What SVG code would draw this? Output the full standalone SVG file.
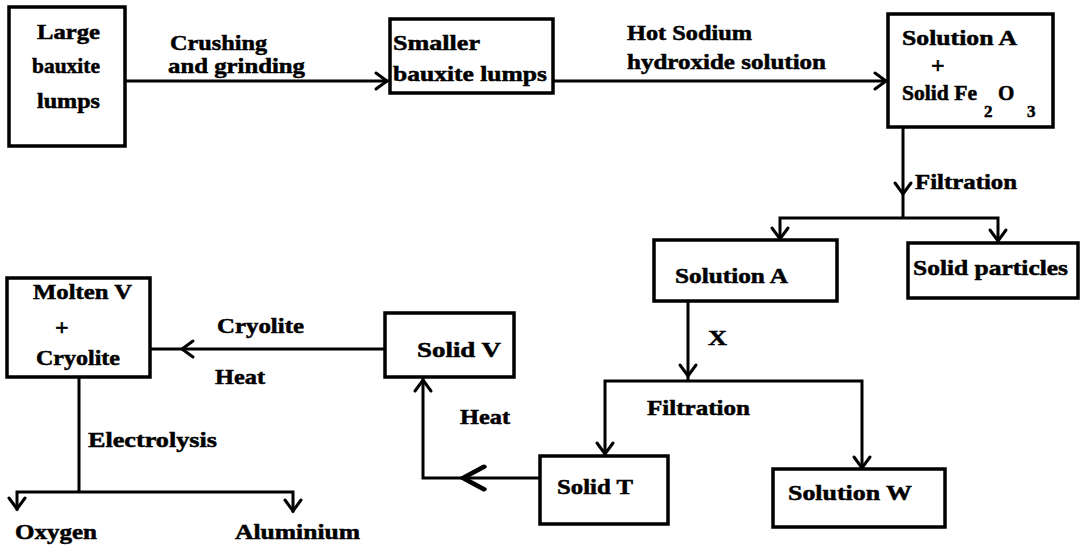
<svg xmlns="http://www.w3.org/2000/svg" xmlns:xlink="http://www.w3.org/1999/xlink" width="1084" height="546" viewBox="0 0 1084 546">
<style>
.box{fill:#fff;stroke:#000;stroke-width:3.5}
.ln{fill:none;stroke:#000;stroke-width:3;stroke-linecap:square}
.ah{fill:none;stroke:#000;stroke-width:3;stroke-linecap:round;stroke-linejoin:miter}
text{font-family:"Liberation Serif","Times New Roman",serif;font-weight:bold;font-size:21px;fill:#000;stroke:#000;stroke-width:0.5}
.sub{font-size:17px}
.plus{font-size:24px}
</style>
<defs>
<path id="ah" class="ah" d="M-11,-8 L0,0 L-11,8"/>
</defs>
<rect width="1084" height="546" fill="#fff"/>

<g id="connectors">
<path class="ln" d="M127,81 H387"/>
<use xlink:href="#ah" transform="translate(387,81)"/>
<path class="ln" d="M553,81 H886"/>
<use xlink:href="#ah" transform="translate(886,81)"/>
<path class="ln" d="M903,127 V218 M780,218 H998 M780,218 V239 M998,218 V241"/>
<use xlink:href="#ah" transform="translate(903,194) rotate(90)"/>
<use xlink:href="#ah" transform="translate(780,239) rotate(90)"/>
<use xlink:href="#ah" transform="translate(998,241) rotate(90)"/>
<path class="ln" d="M688,301 V381 M605,381 H862 M605,381 V454 M862,381 V468"/>
<use xlink:href="#ah" transform="translate(688,376) rotate(90)"/>
<use xlink:href="#ah" transform="translate(605,454) rotate(90)"/>
<use xlink:href="#ah" transform="translate(862,468) rotate(90)"/>
<path class="ln" d="M540,478 H423 V379"/>
<use xlink:href="#ah" transform="translate(463,478) rotate(180) scale(1.9,1.4)"/>
<use xlink:href="#ah" transform="translate(423,380) rotate(-90)"/>
<path class="ln" d="M385,349 H150"/>
<use xlink:href="#ah" transform="translate(182,349) rotate(180)"/>
<path class="ln" d="M79,377 V492 M17,492 H293 M17,492 V509 M293,492 V511"/>
<use xlink:href="#ah" transform="translate(17,509) rotate(90)"/>
<use xlink:href="#ah" transform="translate(293,511) rotate(90)"/>
</g>

<g id="labels">
<text x="170" y="50" textLength="97" lengthAdjust="spacingAndGlyphs">Crushing</text>
<text x="168" y="73" textLength="137" lengthAdjust="spacingAndGlyphs">and grinding</text>
<text x="627" y="40" textLength="125" lengthAdjust="spacingAndGlyphs">Hot Sodium</text>
<text x="627" y="69" textLength="199" lengthAdjust="spacingAndGlyphs">hydroxide solution</text>
<text x="915" y="189" textLength="102" lengthAdjust="spacingAndGlyphs">Filtration</text>
<text x="708" y="345" textLength="19" lengthAdjust="spacingAndGlyphs">X</text>
<text x="647" y="415" textLength="103" lengthAdjust="spacingAndGlyphs">Filtration</text>
<text x="460" y="424" textLength="50" lengthAdjust="spacingAndGlyphs">Heat</text>
<text x="217" y="333" textLength="87" lengthAdjust="spacingAndGlyphs">Cryolite</text>
<text x="215" y="384" textLength="50" lengthAdjust="spacingAndGlyphs">Heat</text>
<text x="88" y="447" textLength="129" lengthAdjust="spacingAndGlyphs">Electrolysis</text>
</g>

<g id="n-large">
<rect class="box" x="9" y="7" width="116" height="139"/>
<text x="37" y="39" textLength="63" lengthAdjust="spacingAndGlyphs">Large</text>
<text x="32" y="73" textLength="68" lengthAdjust="spacingAndGlyphs">bauxite</text>
<text x="37" y="108" textLength="63" lengthAdjust="spacingAndGlyphs">lumps</text>
</g>

<g id="n-smaller">
<rect class="box" x="390" y="19" width="163" height="74"/>
<text x="393" y="50" textLength="87" lengthAdjust="spacingAndGlyphs">Smaller</text>
<text x="393" y="81" textLength="154" lengthAdjust="spacingAndGlyphs">bauxite lumps</text>
</g>

<g id="n-solA-fe">
<rect class="box" x="888" y="14" width="165" height="113"/>
<text x="902" y="45" textLength="115" lengthAdjust="spacingAndGlyphs">Solution A</text>
<text class="plus" x="931" y="73">+</text>
<text x="902" y="100"><tspan textLength="75" lengthAdjust="spacingAndGlyphs">Solid Fe</tspan><tspan class="sub" x="984" y="117">2</tspan><tspan x="998" y="100">O</tspan><tspan class="sub" x="1027" y="117">3</tspan></text>
</g>

<g id="n-solA">
<rect class="box" x="654" y="240" width="183" height="61"/>
<text x="675" y="283" textLength="113" lengthAdjust="spacingAndGlyphs">Solution A</text>
</g>

<g id="n-particles">
<rect class="box" x="908" y="243" width="170" height="55"/>
<text x="913" y="275" textLength="155" lengthAdjust="spacingAndGlyphs">Solid particles</text>
</g>

<g id="n-solT">
<rect class="box" x="540" y="456" width="128" height="68"/>
<text x="557" y="494" textLength="76" lengthAdjust="spacingAndGlyphs">Solid T</text>
</g>

<g id="n-solW">
<rect class="box" x="773" y="469" width="172" height="58"/>
<text x="788" y="500" textLength="124" lengthAdjust="spacingAndGlyphs">Solution W</text>
</g>

<g id="n-solV">
<rect class="box" x="385" y="313" width="129" height="64"/>
<text x="417" y="357" textLength="84" lengthAdjust="spacingAndGlyphs">Solid V</text>
</g>

<g id="n-molten">
<rect class="box" x="7" y="278" width="143" height="99"/>
<text x="33" y="299" textLength="99" lengthAdjust="spacingAndGlyphs">Molten V</text>
<text class="plus" x="55" y="335">+</text>
<text x="36" y="365" textLength="84" lengthAdjust="spacingAndGlyphs">Cryolite</text>
</g>

<g id="n-oxygen">
<text x="15" y="539" textLength="82" lengthAdjust="spacingAndGlyphs">Oxygen</text>
</g>

<g id="n-aluminium">
<text x="235" y="539" textLength="125" lengthAdjust="spacingAndGlyphs">Aluminium</text>
</g>
</svg>
